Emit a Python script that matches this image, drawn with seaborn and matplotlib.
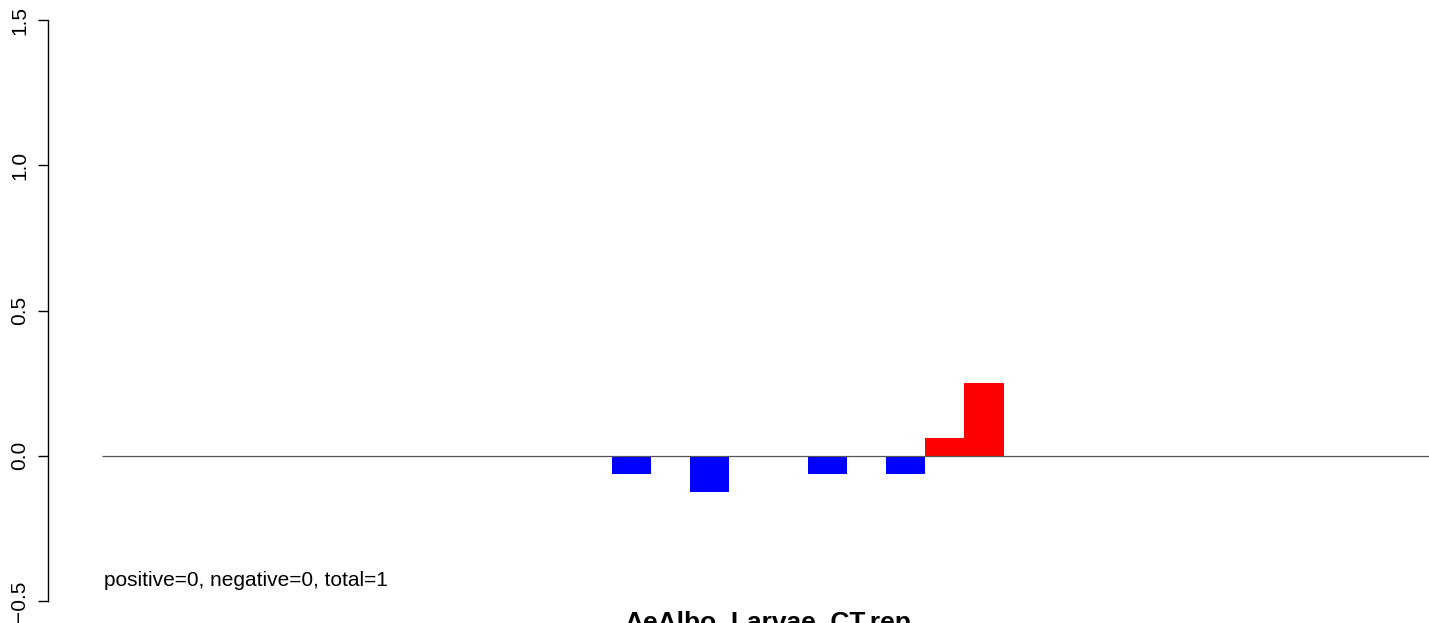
import numpy as np
import pandas as pd
import matplotlib
matplotlib.use("Agg")
import matplotlib.pyplot as plt
import seaborn as sns

# bin positions (0 = start of the baseline) and their values
bins = [13, 15, 18, 20, 21, 22]
values = [-0.0625, -0.125, -0.0625, -0.0625, 0.0625, 0.25]
n_bins = 34
y_ticks = [-0.5, 0.0, 0.5, 1.0, 1.5]
title = "AeAlbo_Larvae_CT.rep"
note = "positive=0, negative=0, total=1"

df = pd.DataFrame({"bin": bins, "value": values})
df["center"] = df["bin"] + 0.5
df["sign"] = np.where(df["value"] > 0, "up", "down")

sns.set_style("white")
plt.rcParams["font.family"] = ["Liberation Sans", "DejaVu Sans"]
plt.rcParams["text.color"] = "black"
plt.rcParams["ytick.color"] = "black"

W, H = 1429, 623
slot = 39.2
fig = plt.figure(figsize=(W / 100, H / 100), dpi=100)
ax = fig.add_axes([48 / W, (H - 601) / H, (W - 48) / W, 581 / H])

sns.barplot(data=df, x="center", y="value", hue="sign", native_scale=True,
            palette={"up": "#ff0000", "down": "#0000ff"}, width=1, dodge=False,
            linewidth=0, saturation=1, legend=False, ax=ax)

ax.hlines(0, 0, n_bins, color="#555555", lw=0.9, zorder=3)

x0 = (48 - 102) / slot
ax.set_xlim(x0, x0 + (W - 48) / slot)
ax.set_ylim(-0.5, 1.5)
ax.set_yticks(y_ticks)
ax.set_yticklabels([f"{t:.1f}".replace("-", "\u2212") for t in y_ticks],
                   rotation=90, va="center", fontsize=15)
ax.tick_params(axis="y", length=7.5, width=1, direction="out", left=True, pad=6)
ax.set_xticks([])
ax.set_xlabel("")
ax.set_ylabel("")
for s in ["top", "right", "bottom"]:
    ax.spines[s].set_visible(False)
ax.spines["left"].set_linewidth(1)
ax.spines["left"].set_color("black")

fig.text(104 / W, (H - 586) / H, note, fontsize=15, ha="left", va="baseline")
fig.text(768 / W, (H - 611) / H, title, fontsize=19, fontweight="bold",
         ha="center", va="top")

fig.savefig("out.png", dpi=100)
